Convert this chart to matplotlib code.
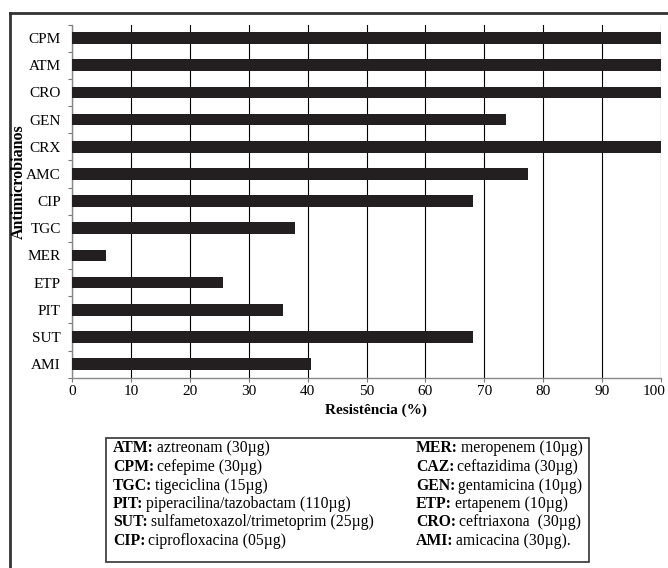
import matplotlib
matplotlib.use('Agg')
import matplotlib.pyplot as plt
from matplotlib.lines import Line2D
from matplotlib.transforms import ScaledTranslation
import numpy as np

plt.rcParams['font.family'] = ['Liberation Serif', 'DejaVu Serif']

codigos = ['CPM', 'ATM', 'CRO', 'GEN', 'CRX', 'AMC', 'CIP', 'TGC', 'MER', 'ETP', 'PIT', 'SUT', 'AMI']
resistencia = [100, 100, 100, 73.7, 100, 77.5, 68.0, 37.8, 5.8, 25.6, 35.9, 68.0, 40.6]

legenda_esq = [('ATM:', 'aztreonam (30µg)'),
               ('CPM:', 'cefepime (30µg)'),
               ('TGC:', 'tigeciclina (15µg)'),
               ('PIT:', 'piperacilina/tazobactam (110µg)'),
               ('SUT:', 'sulfametoxazol/trimetoprim (25µg)'),
               ('CIP:', 'ciprofloxacina (05µg)')]
legenda_dir = [('MER:', 'meropenem (10µg)'),
               ('CAZ:', 'ceftazidima (30µg)'),
               ('GEN:', 'gentamicina (10µg)'),
               ('ETP:', 'ertapenem (10µg)'),
               ('CRO:', 'ceftriaxona  (30µg)'),
               ('AMI:', 'amicacina (30µg).')]

FS = 11
FS_LEG = 11.3
W, H = 668, 568
fig = plt.figure(figsize=(W / 100, H / 100), dpi=100)
ax = fig.add_axes([72 / W, 1 - 377.7 / H, (661 - 72) / W, (377.7 - 24.5) / H])

y = np.arange(len(codigos))
ax.barh(y, resistencia, height=0.43, color='#231f20', zorder=3)
ax.set_ylim(len(codigos) - 0.5, -0.5)
ax.set_xlim(0, 100)
ax.set_xticks(range(0, 101, 10))
ax.set_yticks(y)
ax.set_yticklabels(codigos)
ax.set_yticks(np.arange(-0.5, len(codigos), 1), minor=True)
ax.tick_params(axis='y', which='major', length=0, pad=8, labelsize=FS)
ax.tick_params(axis='y', which='minor', length=3, width=0.8, color='#777777')
ax.tick_params(axis='x', length=3, width=0.8, color='#777777', labelsize=FS, pad=2)
ax.grid(axis='x', color='black', linewidth=0.8, zorder=1)
for s in ['top', 'right']:
    ax.spines[s].set_visible(False)
for s in ['left', 'bottom']:
    ax.spines[s].set_color('#888888')
    ax.spines[s].set_linewidth(1.0)

# o rótulo "100" fica um pouco à esquerda para caber
ult = ax.get_xticklabels()[-1]
ult.set_transform(ult.get_transform() + ScaledTranslation(-7 / 100, 0, fig.dpi_scale_trans))

fig.text(376 / W, 1 - 410 / H, 'Resistência (%)', fontweight='bold', fontsize=FS,
         ha='center', va='center')
fig.text(19 / W, 1 - 182 / H, 'Antimicrobianos', rotation=90, fontweight='bold',
         fontsize=FS + 0.5, ha='center', va='center')

# moldura externa (só esquerda e topo aparecem)
fig.add_artist(Line2D([10 / W, 10 / W], [0, 1 - 13 / H], transform=fig.transFigure,
                      color='#333333', linewidth=2))
fig.add_artist(Line2D([10 / W, 1], [1 - 13 / H, 1 - 13 / H], transform=fig.transFigure,
                      color='#333333', linewidth=2))

# caixa da legenda
bx0, bx1, by0, by1 = 106, 589, 438, 562
fig.add_artist(plt.Rectangle((bx0 / W, 1 - by1 / H), (bx1 - bx0) / W, (by1 - by0) / H,
                             transform=fig.transFigure, fill=False,
                             edgecolor='#333333', linewidth=1.2))

fig.canvas.draw()
renderer = fig.canvas.get_renderer()
linhas_y = [448.5, 467, 485.5, 504, 522.5, 541]


def escreve(x_px, y_px, negrito, normal):
    t = fig.text(x_px / W, 1 - y_px / H, negrito, fontweight='bold', fontsize=FS_LEG,
                 ha='left', va='center')
    bb = t.get_window_extent(renderer)
    fig.text(bb.x1 / W + 3 / W, 1 - y_px / H, normal, fontsize=FS_LEG, ha='left', va='center')


for (b, n), yy in zip(legenda_esq, linhas_y):
    escreve(113, yy, b, n)
for (b, n), yy in zip(legenda_dir, linhas_y):
    escreve(416, yy, b, n)

fig.savefig('out.png', dpi=100)
